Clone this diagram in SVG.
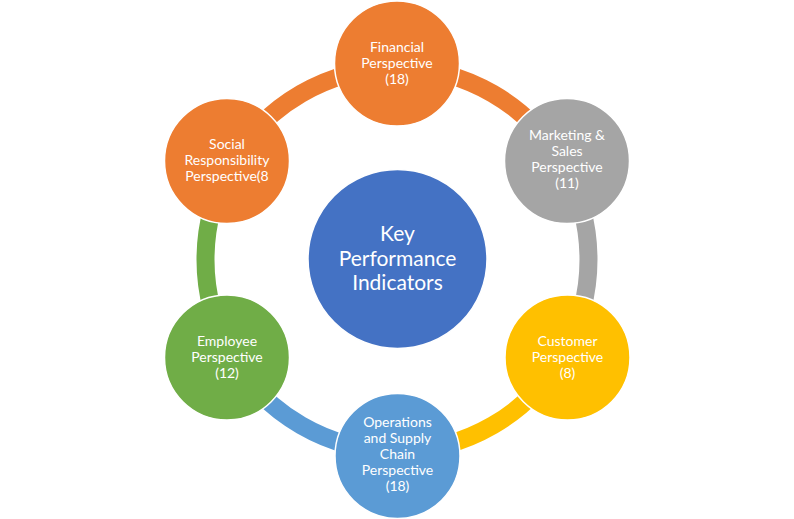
<svg xmlns="http://www.w3.org/2000/svg" width="794" height="519" viewBox="0 0 794 519">
<style>
.arc{fill:none;stroke-width:18}
.node{stroke:#fff;stroke-width:1.5}
.lbl{font-family:Lato,"Open Sans","Liberation Sans",sans-serif;font-size:14px;fill:#fff;text-anchor:middle}
.big{font-family:Lato,"Open Sans","Liberation Sans",sans-serif;font-size:21px;fill:#fff;text-anchor:middle}
</style>
<rect width="794" height="519" fill="#fff"/>
<g id="connectors">
<path class="arc" stroke="#ED7D31" d="M 397 68 A 191.5 191.5 0 0 1 562.84 163.75"/>
<path class="arc" stroke="#A5A5A5" d="M 562.84 163.75 A 191.5 191.5 0 0 1 562.84 355.25"/>
<path class="arc" stroke="#FFC000" d="M 562.84 355.25 A 191.5 191.5 0 0 1 397 451"/>
<path class="arc" stroke="#5B9BD5" d="M 397 451 A 191.5 191.5 0 0 1 231.16 355.25"/>
<path class="arc" stroke="#70AD47" d="M 231.16 355.25 A 191.5 191.5 0 0 1 231.16 163.75"/>
<path class="arc" stroke="#ED7D31" d="M 231.16 163.75 A 191.5 191.5 0 0 1 397 68"/>
</g>
<g id="center">
<circle class="node" cx="397.5" cy="259" r="89.5" fill="#4472C4"/>
<text class="big" x="397.5" y="241">Key</text>
<text class="big" x="397.5" y="265.5">Performance</text>
<text class="big" x="397.5" y="290">Indicators</text>
</g>
<g id="financial">
<circle class="node" cx="397" cy="63.5" r="62.5" fill="#ED7D31"/>
<text class="lbl" x="397" y="51.5">Financial</text>
<text class="lbl" x="397" y="67.5">Perspective</text>
<text class="lbl" x="397" y="83.5">(18)</text>
</g>
<g id="marketing">
<circle class="node" cx="567" cy="161" r="62.5" fill="#A5A5A5"/>
<text class="lbl" x="567" y="140">Marketing &amp;</text>
<text class="lbl" x="567" y="156">Sales</text>
<text class="lbl" x="567" y="172">Perspective</text>
<text class="lbl" x="567" y="188">(11)</text>
</g>
<g id="customer">
<circle class="node" cx="567.5" cy="357.5" r="62.5" fill="#FFC000"/>
<text class="lbl" x="567.5" y="345.5">Customer</text>
<text class="lbl" x="567.5" y="361.5">Perspective</text>
<text class="lbl" x="567.5" y="377.5">(8)</text>
</g>
<g id="operations">
<circle class="node" cx="397.5" cy="456" r="62.5" fill="#5B9BD5"/>
<text class="lbl" x="397.5" y="427">Operations</text>
<text class="lbl" x="397.5" y="443">and Supply</text>
<text class="lbl" x="397.5" y="459">Chain</text>
<text class="lbl" x="397.5" y="475">Perspective</text>
<text class="lbl" x="397.5" y="491">(18)</text>
</g>
<g id="employee">
<circle class="node" cx="227" cy="357.5" r="62.5" fill="#70AD47"/>
<text class="lbl" x="227" y="345.5">Employee</text>
<text class="lbl" x="227" y="361.5">Perspective</text>
<text class="lbl" x="227" y="377.5">(12)</text>
</g>
<g id="social">
<circle class="node" cx="227" cy="161" r="62.5" fill="#ED7D31"/>
<text class="lbl" x="227" y="149">Social</text>
<text class="lbl" x="227" y="165">Responsibility</text>
<text class="lbl" x="227" y="181">Perspective(8</text>
</g>
</svg>
